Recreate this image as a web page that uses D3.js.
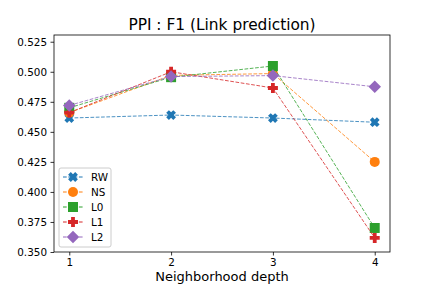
<!DOCTYPE html>
<html>
<head>
<meta charset="utf-8">
<script src="https://cdn.jsdelivr.net/npm/d3@7"></script>
<style>
  html, body { margin: 0; padding: 0; background: #fff; }
  svg { display: block; font-family: "DejaVu Sans", sans-serif; }
</style>
</head>
<body>
<div id="chart"></div>
<script>
// ── Data ─────────────────────────────────────────────────────
const depths = [1, 2, 3, 4];
const seriesNames = ['RW', 'NS', 'L0', 'L1', 'L2'];
const rw = [0.4615, 0.4640, 0.4615, 0.4580];
const ns = [0.4660, 0.4970, 0.4985, 0.4250];
const l0 = [0.4700, 0.4955, 0.5048, 0.3700];
const l1 = [0.4660, 0.5000, 0.4865, 0.3617];
const l2 = [0.4720, 0.4960, 0.4968, 0.4875];
const yTicks = [0.350, 0.375, 0.400, 0.425, 0.450, 0.475, 0.500, 0.525];

const COLORS  = ['#1f77b4', '#ff7f0e', '#2ca02c', '#d62728', '#9467bd'];
const MARKERS = ['x', 'circle', 'square', 'plus', 'diamond'];
const values  = [rw, ns, l0, l1, l2];

// ── Layout ───────────────────────────────────────────────────
const width = 432, height = 288;
const margin = { top: 35, right: 42, bottom: 36, left: 54 };
const innerW = width - margin.left - margin.right;
const innerH = height - margin.top - margin.bottom;

const svg = d3.select('#chart').append('svg')
  .attr('width', width).attr('height', height);

const x = d3.scaleLinear().domain([0.85, 4.15]).range([0, innerW]);
const y = d3.scaleLinear().domain([0.35, 0.5306]).range([innerH, 0]);

const g = svg.append('g').attr('transform', `translate(${margin.left},${margin.top})`);

// marker paths centred on 0,0 (size ~10px)
function markerPath(type, s) {
  const h = s / 2;
  if (type === 'circle') return d3.symbol(d3.symbolCircle, Math.PI * h * h)();
  if (type === 'square') return `M${-h},${-h}H${h}V${h}H${-h}Z`;
  if (type === 'diamond') { const d = h * 1.25; return `M0,${-d}L${d},0L0,${d}L${-d},0Z`; }
  // filled plus; the 'x' marker is the same shape rotated 45°
  const t = h * 0.38;
  return `M${-t},${-h}H${t}V${-t}H${h}V${t}H${t}V${h}H${-t}V${t}H${-h}V${-t}H${-t}Z`;
}

// ── Axes ─────────────────────────────────────────────────────
const xAxis = g.append('g').attr('transform', `translate(0,${innerH})`)
  .call(d3.axisBottom(x).tickValues(depths).tickFormat(d3.format('d')).tickSize(3.5).tickPadding(3.5));
const yAxis = g.append('g')
  .call(d3.axisLeft(y).tickValues(yTicks).tickFormat(d3.format('.3f')).tickSize(3.5).tickPadding(3.5));
[xAxis, yAxis].forEach(a => {
  a.select('.domain').remove();
  a.selectAll('line').attr('stroke', '#000').attr('stroke-width', 0.8);
  a.selectAll('text').attr('font-size', 10.4).attr('fill', '#000')
    .attr('font-family', '"DejaVu Sans", sans-serif');
});

// ── Series ───────────────────────────────────────────────────
const line = d3.line().x((d, i) => x(depths[i])).y(d => y(d));

values.forEach((vals, k) => {
  g.append('path')
    .datum(vals)
    .attr('d', line)
    .attr('fill', 'none')
    .attr('stroke', COLORS[k])
    .attr('stroke-width', 1)
    .attr('stroke-opacity', 0.8)
    .attr('stroke-dasharray', '3.7,1.6');
  g.selectAll(null).data(vals).join('path')
    .attr('d', markerPath(MARKERS[k], 10))
    .attr('transform', (d, i) => `translate(${x(depths[i])},${y(d)})` + (MARKERS[k] === 'x' ? ' rotate(45)' : ''))
    .attr('fill', COLORS[k]);
});

// frame
g.append('rect').attr('width', innerW).attr('height', innerH)
  .attr('fill', 'none').attr('stroke', '#000').attr('stroke-width', 0.8);

// ── Legend ───────────────────────────────────────────────────
const lg = g.append('g').attr('transform', `translate(5,${innerH - 84})`);
lg.append('rect').attr('width', 52).attr('height', 79).attr('rx', 2)
  .attr('fill', '#fff').attr('fill-opacity', 0.8)
  .attr('stroke', '#ccc').attr('stroke-width', 1);
seriesNames.forEach((name, k) => {
  const yy = 9 + k * 15;
  lg.append('line').attr('x1', 4).attr('x2', 24).attr('y1', yy).attr('y2', yy)
    .attr('stroke', COLORS[k]).attr('stroke-width', 1).attr('stroke-dasharray', '3.7,1.6');
  lg.append('path').attr('d', markerPath(MARKERS[k], 10))
    .attr('transform', `translate(14,${yy})` + (MARKERS[k] === 'x' ? ' rotate(45)' : ''))
    .attr('fill', COLORS[k]);
  lg.append('text').attr('x', 32).attr('y', yy).attr('dy', '0.35em')
    .attr('font-size', 10.4).attr('fill', '#000').text(name);
});

// ── Titles ───────────────────────────────────────────────────
svg.append('text').attr('x', margin.left + innerW / 2).attr('y', 29.5)
  .attr('text-anchor', 'middle').attr('font-size', 15.4).attr('fill', '#000')
  .text('PPI : F1 (Link prediction)');
svg.append('text').attr('x', margin.left + innerW / 2).attr('y', 281)
  .attr('text-anchor', 'middle').attr('font-size', 13).attr('fill', '#000')
  .text('Neighborhood depth');
</script>
</body>
</html>
